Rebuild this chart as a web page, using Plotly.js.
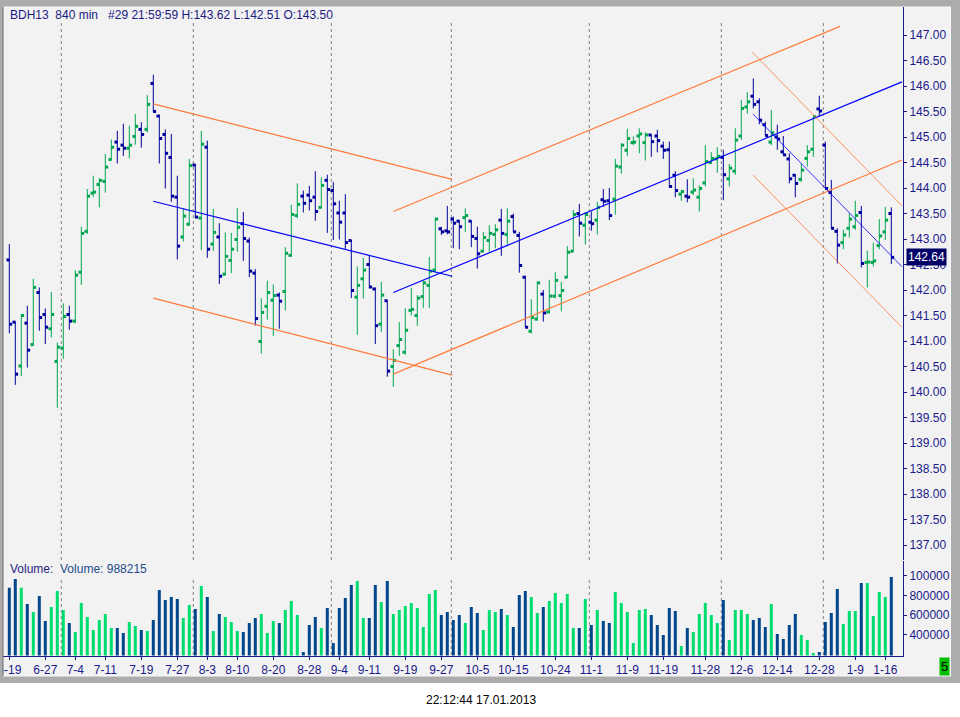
<!DOCTYPE html>
<html><head><meta charset="utf-8">
<script src="https://cdn.plot.ly/plotly-3.0.1.min.js"></script>
<style>html,body{margin:0;padding:0;background:#fff;}#chart{width:960px;height:717px;}</style>
</head><body><div id="chart"></div>
<script>
// ---------- DATA ----------
const symbol = 'BDH13';
const period = '840 min';
const barInfo = '#29 21:59:59';
const timestamp = '22:12:44 17.01.2013';

const openP = [142.59,141.37,140.51,141.35,140.93,141.95,141.52,141.24,140.60,140.86,
141.52,141.39,142.35,143.15,143.90,144.07,144.13,144.56,144.90,144.84,
144.78,145.01,145.15,145.15,146.05,145.41,145.05,144.60,143.82,143.04,
143.29,144.45,143.41,144.80,142.90,143.04,142.31,142.58,142.99,143.30,
142.96,142.33,140.99,141.68,141.80,141.90,141.97,142.68,143.46,143.84,
143.86,143.82,143.62,144.15,143.95,143.51,143.51,142.97,141.86,142.22,
142.50,142.02,141.33,141.79,140.50,140.91,140.78,141.60,141.50,141.87,
142.09,142.39,143.20,143.16,143.39,143.35,143.42,143.35,143.01,142.76,
142.97,143.09,143.37,143.09,143.44,143.07,142.25,141.19,141.43,141.92,
141.57,141.88,141.89,142.25,142.76,143.50,143.27,143.33,143.37,143.77,
143.75,143.78,144.41,144.74,144.89,145.02,144.89,145.04,145.02,144.82,
144.75,144.25,143.88,143.84,143.92,143.82,144.10,144.50,144.57,144.60,
144.18,144.33,145.02,145.59,145.80,145.69,145.24,144.90,145.00,144.71,
144.57,144.25,144.17,144.58,144.76,145.55,144.84,143.91,143.15,142.93,
143.21,143.24,143.52,142.54,142.54,142.87,143.14,143.50];
const highP = [142.90,141.38,141.53,141.69,142.22,142.05,141.64,141.96,140.97,141.74,
141.69,142.39,143.24,143.98,144.24,144.19,144.67,144.95,145.12,145.26,
145.22,145.45,145.29,145.82,146.22,145.44,145.15,145.06,144.24,143.60,
144.57,144.47,145.12,144.93,143.59,143.31,143.13,143.12,143.61,143.53,
143.03,142.41,141.84,142.18,142.11,141.95,142.84,143.67,144.09,143.95,
144.04,144.33,144.21,144.26,144.12,143.75,143.88,142.98,142.46,142.63,
142.68,142.05,142.16,141.80,140.84,141.37,141.64,142.04,141.90,142.18,
142.65,143.42,143.24,143.65,143.44,143.37,143.60,143.36,143.24,143.14,
143.27,143.29,143.59,143.60,143.50,143.14,142.28,141.82,142.16,142.00,
142.20,142.35,142.16,142.86,143.57,143.69,143.53,143.54,143.73,143.98,
144.00,144.57,144.88,145.16,145.01,145.17,145.09,145.05,145.14,144.91,
144.91,144.33,143.96,144.17,144.19,144.05,144.84,144.70,144.80,144.75,
144.47,145.17,145.73,145.88,146.15,145.76,145.30,145.53,145.24,145.02,
144.68,144.27,144.48,144.84,145.40,145.81,144.91,144.16,143.21,143.18,
143.50,143.75,143.65,142.77,142.93,143.39,143.63,143.62];
const lowP = [141.15,140.14,140.31,140.48,140.91,141.20,140.94,141.07,139.69,140.65,
141.22,141.35,142.10,143.10,143.82,143.62,143.91,144.54,144.48,144.63,
144.58,144.85,144.79,145.09,145.50,144.48,143.99,143.73,142.60,142.95,
143.26,143.41,142.78,142.63,142.77,142.12,142.29,142.33,142.75,142.57,
142.25,141.30,140.75,141.42,141.10,141.24,141.60,142.65,143.41,143.52,
143.56,143.36,143.60,143.12,142.98,142.99,142.80,141.84,141.12,141.83,
142.03,140.94,141.18,140.30,140.10,140.71,140.73,141.50,141.30,141.65,
141.65,142.33,143.08,143.09,142.82,142.80,143.14,142.84,142.42,142.74,
142.75,142.82,142.67,142.90,143.14,142.34,141.27,141.15,141.40,141.38,
141.54,141.84,141.58,142.25,142.76,143.05,142.89,143.16,143.09,143.63,
143.37,143.48,144.28,144.63,144.84,144.68,144.54,144.61,144.70,144.57,
144.01,143.82,143.75,143.72,143.86,143.54,144.03,144.47,144.30,143.76,
144.03,144.26,144.94,145.46,145.56,145.25,145.03,144.84,144.75,144.65,
144.09,143.82,144.12,144.42,144.61,145.41,143.99,143.21,142.52,142.80,
143.03,143.18,142.44,142.05,142.46,142.80,142.98,142.51];
const closeP = [141.33,140.35,141.50,140.82,142.05,141.46,141.27,141.52,140.88,141.48,
141.39,142.29,143.11,143.84,143.92,144.15,144.41,144.80,144.76,144.78,
144.84,145.21,145.05,145.64,145.50,144.97,144.68,143.84,142.86,143.45,
144.44,143.43,144.86,142.80,143.13,142.27,142.66,142.80,143.23,143.01,
142.37,141.44,141.56,141.95,141.89,141.78,142.72,143.48,143.68,143.70,
143.75,143.54,144.05,143.97,143.69,143.33,142.93,141.99,142.09,142.39,
142.06,141.30,141.90,140.41,140.62,141.03,141.21,141.62,141.84,142.14,
142.37,143.39,143.14,143.14,143.31,143.24,143.46,143.05,142.71,143.03,
143.11,143.18,143.11,143.35,143.14,142.48,141.27,141.46,142.14,141.55,
141.88,142.19,141.99,142.74,143.48,143.31,143.48,143.30,143.62,143.74,
143.46,144.43,144.84,144.97,144.90,145.06,145.04,144.91,144.93,144.74,
144.03,143.95,143.93,143.82,143.96,143.99,144.52,144.58,144.62,144.26,
144.39,144.94,145.56,145.69,145.64,145.33,145.03,145.08,144.96,144.65,
144.18,144.09,144.35,144.71,145.40,145.51,143.99,143.21,142.88,143.08,
143.39,143.46,142.52,142.55,142.57,143.06,143.37,142.64];
const volume = [878600,966000,878600,713000,632000,794000,541000,683000,845000,653000,
521000,430000,723000,582000,450000,551000,612000,470000,470000,420000,
531000,491000,450000,440000,551000,855000,754000,784000,764000,572000,
703000,663000,895000,784000,440000,612000,582000,531000,440000,430000,
521000,572000,612000,420000,541000,521000,653000,744000,602000,228000,
501000,582000,470000,673000,319000,673000,774000,906000,946000,572000,
572000,906000,734000,946000,612000,653000,693000,723000,673000,480000,
814000,855000,602000,632000,551000,602000,521000,683000,622000,450000,
653000,632000,663000,602000,480000,804000,845000,784000,622000,683000,
744000,825000,723000,814000,470000,470000,764000,501000,653000,541000,
521000,835000,723000,632000,319000,653000,663000,602000,501000,400000,
673000,642000,288000,470000,430000,612000,723000,602000,521000,754000,
349000,653000,653000,612000,551000,572000,480000,713000,410000,359000,
501000,612000,400000,349000,217000,228000,531000,622000,865000,511000,
642000,642000,926000,926000,592000,835000,784000,988215];

const tickBars = [1,7,12,17,23,29,34,39,45,51,56,61,67,73,79,85,92,98,104,110,117,123,129,136,142,147];
const tickLabels = ['6-19','6-27','7-4','7-11','7-19','7-27','8-3','8-10','8-20','8-28','9-4','9-11','9-19','9-27','10-5','10-15','10-24','11-1','11-9','11-19','11-28','12-6','12-14','12-28','1-9','1-16'];
const monthStarts = [10,32,55,75,98,120,137];
const priceTicks = [137,137.5,138,138.5,139,139.5,140,140.5,141,141.5,142,142.5,143,143.5,144,144.5,145,145.5,146,146.5,147];
const volTicks = [400000,600000,800000,1000000];

// trend channels (bar index, price)
const chan1X = [25, 74.83];
const chan1Upper = [145.65, 144.17];
const chan1Mid = [143.74, 142.27];
const chan1Lower = [141.84, 140.33];
const chan2UpperX = [65, 139.45];
const chan2Upper = [143.54, 147.17];
const chan2X = [65, 149.78];
const chan2Mid = [141.95, 146.08];
const chan2Lower = [140.35, 144.55];
const chan3UpperX = [124.78, 149.78];
const chan3Upper = [146.67, 143.65];
const chan3X = [124.95, 149.78];
const chan3Mid = [145.45, 142.457];
const chan3Lower = [144.255, 141.27];

// ---------- STYLE ----------
const W = 960, H = 717;
const px = x => x / W;
const py = y => 1 - y / H;
const NAVY = '#1a1a8c';
const UP = '#00a550', DOWN = '#00009c';
const VUP = '#00dc6e', VDOWN = '#00468c';
const ORANGE = '#ff7b3a', BLUE = '#0000ff';
const FRAME = '#acacac';
const FONT = 'Liberation Sans, Arial, sans-serif';

const idx = openP.map((_, i) => i + 1);
const isUp = openP.map((o, i) => closeP[i] >= o);
const last = closeP.length - 1;

const traces = [];
traces.push({
  type: 'bar', x: idx, y: volume, xaxis: 'x', yaxis: 'y2', width: 0.5,
  marker: {color: isUp.map(u => u ? VUP : VDOWN), line: {width: 0}},
  hoverinfo: 'skip'
});
traces.push({
  type: 'ohlc', x: idx, open: openP, high: highP, low: lowP, close: closeP,
  xaxis: 'x', yaxis: 'y', tickwidth: 0.2,
  increasing: {line: {color: UP, width: 1}},
  decreasing: {line: {color: DOWN, width: 1}},
  hoverinfo: 'skip'
});
traces.push({
  type: 'scatter', mode: 'markers', x: idx.map(i => i - 0.22), y: openP, yaxis: 'y',
  marker: {symbol: 'square', size: 3, color: isUp.map(u => u ? UP : DOWN), line: {width: 0}},
  hoverinfo: 'skip'
});
traces.push({
  type: 'scatter', mode: 'markers', x: idx.map(i => i + 0.22), y: closeP, yaxis: 'y',
  marker: {symbol: 'square', size: 3, color: isUp.map(u => u ? UP : DOWN), line: {width: 0}},
  hoverinfo: 'skip'
});
function tline(xs, ys, color, width) {
  traces.push({type: 'scatter', mode: 'lines', x: xs, y: ys, yaxis: 'y',
    line: {color: color, width: width}, hoverinfo: 'skip'});
}
tline(chan1X, chan1Upper, ORANGE, 1.2);
tline(chan1X, chan1Mid, BLUE, 1.2);
tline(chan1X, chan1Lower, ORANGE, 1.2);
tline(chan2UpperX, chan2Upper, ORANGE, 1.2);
tline(chan2X, chan2Mid, BLUE, 1.2);
tline(chan2X, chan2Lower, ORANGE, 1.2);
tline(chan3UpperX, chan3Upper, ORANGE, 0.8);
tline(chan3X, chan3Mid, BLUE, 0.8);
tline(chan3X, chan3Lower, ORANGE, 0.8);

const shapes = [
  {type: 'rect', xref: 'paper', yref: 'paper', x0: 0, x1: 1, y0: py(683), y1: 1,
   fillcolor: FRAME, line: {width: 0}, layer: 'below'},
  {type: 'rect', xref: 'paper', yref: 'paper', x0: px(3), x1: px(951), y0: py(676), y1: py(7),
   fillcolor: '#f2f2f2', line: {color: '#f9f9f9', width: 1}, layer: 'below'},
  // frame strips drawn above so overflowing labels are clipped like the original widget
  {type: 'rect', xref: 'paper', yref: 'paper', x0: 0, x1: px(3), y0: py(683), y1: 1,
   fillcolor: FRAME, line: {width: 0}, layer: 'above'},
  {type: 'line', xref: 'paper', yref: 'paper', x0: px(3), x1: px(3), y0: py(676), y1: py(7),
   line: {color: '#6a6a6a', width: 1}, layer: 'above'},
  {type: 'rect', xref: 'paper', yref: 'paper', x0: px(951), x1: 1, y0: py(683), y1: 1,
   fillcolor: FRAME, line: {width: 0}, layer: 'above'},
  {type: 'line', xref: 'paper', yref: 'paper', x0: px(950.5), x1: px(950.5), y0: py(676), y1: py(7),
   line: {color: '#f9f9f9', width: 1}, layer: 'above'}
];
monthStarts.forEach(m => {
  [[23, 560], [577, 655]].forEach(([a, b]) => {
    shapes.push({type: 'line', xref: 'x', yref: 'paper', x0: m - 1/3, x1: m - 1/3,
      y0: py(b), y1: py(a), line: {color: '#808080', width: 1, dash: 'dot'}, layer: 'below'});
  });
});

const nb = '\u00a0';
const header = symbol + nb + nb + period + nb + nb + nb + barInfo +
  ' H:' + highP[last].toFixed(2) + ' L:' + lowP[last].toFixed(2) + ' O:' + openP[last].toFixed(2);

const annotations = [
  {xref: 'paper', yref: 'paper', x: px(8), y: py(15), xanchor: 'left', yanchor: 'middle',
   text: header, showarrow: false, font: {family: FONT, size: 12, color: '#1a1a80'}},
  {xref: 'paper', yref: 'paper', x: px(8), y: py(569), xanchor: 'left', yanchor: 'middle',
   text: '<span style="color:#2a1a80">Volume:' + nb + nb + '</span><span style="color:#234c8c">Volume: ' + volume[last] + '</span>',
   showarrow: false, font: {family: FONT, size: 12, color: '#2a1a80'}},
  {xref: 'paper', yref: 'y', x: px(906), y: closeP[last], xanchor: 'left', yanchor: 'middle',
   text: closeP[last].toFixed(2), showarrow: false, bgcolor: '#000066', borderpad: 1,
   font: {family: FONT, size: 12, color: '#ffffff'}},
  {xref: 'paper', yref: 'paper', x: px(944), y: py(666.5), xanchor: 'center', yanchor: 'middle',
   text: '5', showarrow: false, bgcolor: '#00c000', borderpad: 1,
   font: {family: FONT, size: 13, color: '#000000'}},
  {xref: 'paper', yref: 'paper', x: px(481), y: py(700), xanchor: 'center', yanchor: 'middle',
   text: timestamp, showarrow: false, font: {family: FONT, size: 12, color: '#000000'}}
];

const axisCommon = {
  showgrid: false, zeroline: false, showline: true, linecolor: NAVY, linewidth: 1,
  ticks: 'outside', ticklen: 3, tickcolor: NAVY, tickwidth: 1,
  tickfont: {family: FONT, size: 12, color: NAVY}, fixedrange: true
};

const layout = {
  width: W, height: H, margin: {l: 0, r: 0, t: 0, b: 0},
  paper_bgcolor: '#ffffff', plot_bgcolor: 'rgba(0,0,0,0)',
  showlegend: false, hovermode: false,
  xaxis: Object.assign({}, axisCommon, {
    domain: [px(3), px(903)], range: [-0.05, 149.95], anchor: 'y2',
    tickmode: 'array', tickvals: tickBars, ticktext: tickLabels,
    ticklabeloverflow: 'allow',
    rangeslider: {visible: false}
  }),
  yaxis: Object.assign({}, axisCommon, {
    domain: [py(560), py(7)], range: [136.706, 147.549], side: 'right', anchor: 'x',
    tickmode: 'array', tickvals: priceTicks, ticktext: priceTicks.map(v => v.toFixed(2))
  }),
  yaxis2: Object.assign({}, axisCommon, {
    domain: [py(655.5), py(561)], range: [192000, 1149000], side: 'right', anchor: 'x',
    tickmode: 'array', tickvals: volTicks, ticktext: volTicks.map(v => String(v)),
    ticklabeloverflow: 'allow'
  }),
  shapes: shapes, annotations: annotations
};

Plotly.newPlot('chart', traces, layout, {staticPlot: true, displayModeBar: false});
</script></body></html>
